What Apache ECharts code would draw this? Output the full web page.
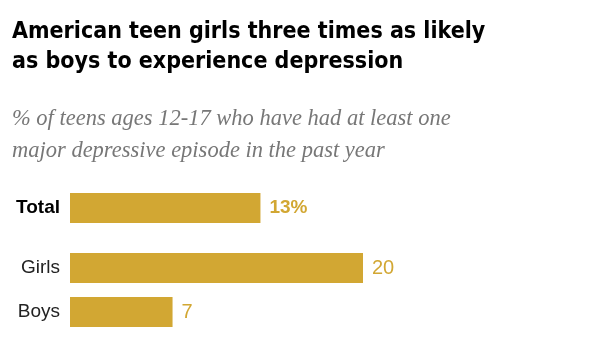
<!DOCTYPE html>
<html>
<head>
<meta charset="utf-8">
<script src="https://cdn.jsdelivr.net/npm/echarts@6/dist/echarts.min.js"></script>
<style>html,body{margin:0;padding:0;background:#fff}#c{width:600px;height:351px}</style>
</head>
<body>
<div id="c"></div>
<script>
var titleText = 'American teen girls three times as likely\nas boys to experience depression';
var subtitleText = '% of teens ages 12-17 who have had at least one\nmajor depressive episode in the past year';
var totalCategories = ['Total'];
var totalValues = [13];
var genderCategories = ['Girls', 'Boys'];
var genderValues = [20, 7];
var axisMax = 20;

var gold = '#D2A733';
var chart = echarts.init(document.getElementById('c'), null, {renderer: 'canvas'});
chart.setOption({
  animation: false,
  backgroundColor: '#fff',
  title: [
    {
      text: titleText, left: 12, top: 17, padding: 0,
      textStyle: {fontFamily: '"DejaVu Sans Condensed", "Liberation Sans", sans-serif', fontWeight: 'bold', fontSize: 23, lineHeight: 30, color: '#000'}
    },
    {
      text: subtitleText, left: 12, top: 103, padding: 0,
      textStyle: {fontFamily: '"Liberation Serif", serif', fontStyle: 'italic', fontWeight: 'normal', fontSize: 22.5, lineHeight: 32, color: '#777'}
    }
  ],
  grid: [
    {left: 70, top: 193, width: 293, height: 30},
    {left: 70, top: 246, width: 293, height: 88}
  ],
  xAxis: [
    {gridIndex: 0, type: 'value', min: 0, max: axisMax, show: false},
    {gridIndex: 1, type: 'value', min: 0, max: axisMax, show: false}
  ],
  yAxis: [
    {gridIndex: 0, type: 'category', data: totalCategories, inverse: true,
      axisLine: {show: false}, axisTick: {show: false}, splitLine: {show: false},
      axisLabel: {margin: 10, fontFamily: '"Liberation Sans", Arial, sans-serif', fontWeight: 'bold', fontSize: 19, color: '#000'}},
    {gridIndex: 1, type: 'category', data: genderCategories, inverse: true,
      axisLine: {show: false}, axisTick: {show: false}, splitLine: {show: false},
      axisLabel: {margin: 10, fontFamily: '"Liberation Sans", Arial, sans-serif', fontWeight: 'normal', fontSize: 19, color: '#222'}}
  ],
  series: [
    {type: 'bar', xAxisIndex: 0, yAxisIndex: 0, data: totalValues, barWidth: 30,
      itemStyle: {color: gold},
      label: {show: true, position: 'right', distance: 9, formatter: '{c}%', fontFamily: '"Liberation Sans", Arial, sans-serif', fontWeight: 'bold', fontSize: 19, color: gold}},
    {type: 'bar', xAxisIndex: 1, yAxisIndex: 1, data: genderValues, barWidth: 30,
      itemStyle: {color: gold},
      label: {show: true, position: 'right', distance: 9, formatter: '{c}', fontFamily: '"Liberation Sans", Arial, sans-serif', fontWeight: 'normal', fontSize: 20, color: gold}}
  ]
});
</script>
</body>
</html>
